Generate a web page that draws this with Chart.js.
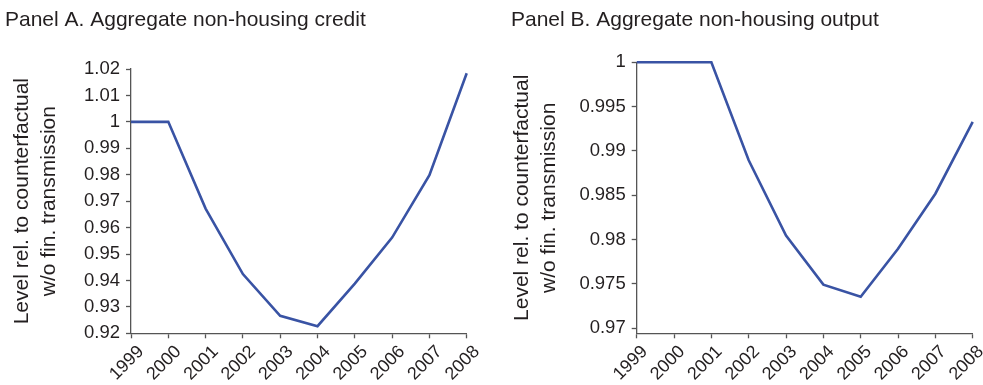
<!DOCTYPE html>
<html>
<head>
<meta charset="utf-8">
<script src="https://cdn.jsdelivr.net/npm/chart.js@4.4.1/dist/chart.umd.min.js"></script>
<style>
  html, body { margin: 0; padding: 0; background: #fff; overflow: hidden; }
  #wrap { position: relative; width: 983px; height: 385px; }
  canvas { position: absolute; top: 0; }
  #panelA { left: 0; }
  #panelB { left: 490px; }
</style>
</head>
<body>
<div id="wrap">
  <canvas id="panelA" width="490" height="385"></canvas>
  <canvas id="panelB" width="493" height="385"></canvas>
</div>
<script>
// Years on the horizontal axis (shared by both panels)
const years = ['1999', '2000', '2001', '2002', '2003', '2004', '2005', '2006', '2007', '2008'];

// Panel A: aggregate non-housing credit, level relative to counterfactual
const creditLevel = [1.0, 1.0, 0.9672, 0.9424, 0.9266, 0.9227, 0.9388, 0.9562, 0.9798, 1.0184];
const creditTicks = [0.92, 0.93, 0.94, 0.95, 0.96, 0.97, 0.98, 0.99, 1.0, 1.01, 1.02];
const creditTickLabels = ['0.92', '0.93', '0.94', '0.95', '0.96', '0.97', '0.98', '0.99', '1', '1.01', '1.02'];

// Panel B: aggregate non-housing output, level relative to counterfactual
const outputLevel = [1.0, 1.0, 1.0, 0.98895, 0.98047, 0.97493, 0.97357, 0.97897, 0.98518, 0.99329];
const outputTicks = [0.97, 0.975, 0.98, 0.985, 0.99, 0.995, 1.0];
const outputTickLabels = ['0.97', '0.975', '0.98', '0.985', '0.99', '0.995', '1'];

const yAxisTitle = ['Level rel. to counterfactual', 'w/o fin. transmission'];

const FONT = "'Liberation Sans', Arial, Helvetica, sans-serif";
const TEXT = '#231f20';
const AXIS = '#555555';
const LINE = '#3953a4';

function buildPanel(canvasId, p) {
  return new Chart(document.getElementById(canvasId), {
    type: 'line',
    data: {
      labels: years,
      datasets: [{
        data: p.values,
        borderColor: LINE,
        borderWidth: 2.6,
        pointRadius: 0,
        pointHoverRadius: 0,
        tension: 0,
        fill: false,
        clip: false
      }]
    },
    options: {
      responsive: false,
      animation: false,
      events: [],
      layout: { padding: { top: 0, left: p.padLeft, right: p.padRight, bottom: 0 } },
      plugins: {
        legend: { display: false },
        tooltip: { enabled: false },
        title: {
          display: true,
          text: p.title,
          align: 'start',
          color: TEXT,
          font: { family: FONT, size: 21, weight: 'normal', lineHeight: 1.2 },
          padding: { top: 7.3, bottom: p.titleGap }
        }
      },
      scales: {
        x: {
          type: 'category',
          offset: false,
          grid: { drawOnChartArea: false, drawTicks: true, tickLength: 5, color: AXIS, tickWidth: 1.3 },
          border: { display: true, color: AXIS, width: 1.3 },
          ticks: {
            color: TEXT,
            font: { family: FONT, size: 18 },
            maxRotation: 45,
            minRotation: 45,
            autoSkip: false,
            padding: 3,
            labelOffset: p.xLabelShift
          },
          afterFit(scale) {
            scale.height = 51.7;
            scale.paddingLeft = 0;
            scale.paddingRight = 0;
          }
        },
        y: {
          type: 'linear',
          min: p.min,
          max: p.max,
          grid: { drawOnChartArea: false, drawTicks: true, tickLength: 5, color: AXIS, tickWidth: 1.3 },
          border: { display: true, color: AXIS, width: 1.3 },
          ticks: {
            color: TEXT,
            font: { family: FONT, size: 18.5 },
            padding: 6,
            callback: (value, index) => p.tickLabels[index]
          },
          afterBuildTicks(scale) {
            scale.ticks = p.ticks.map(v => ({ value: v }));
          },
          afterFit(scale) {
            scale.width = p.yWidth;
            scale.paddingTop = 0;
            scale.paddingBottom = 0;
          },
          title: {
            display: true,
            text: yAxisTitle,
            color: TEXT,
            font: { family: FONT, size: 21, lineHeight: 1.26 },
            padding: { top: p.yTitlePad, bottom: 0 }
          }
        }
      }
    }
  });
}

buildPanel('panelA', {
  title: 'Panel A. Aggregate non-housing credit',
  values: creditLevel,
  ticks: creditTicks,
  tickLabels: creditTickLabels,
  min: 0.92,
  max: 1.02,
  padLeft: 5,
  padRight: 23.3,
  yWidth: 126,
  titleGap: 36.5,
  yTitlePad: 4.35,
  xLabelShift: 10
});

buildPanel('panelB', {
  title: 'Panel B. Aggregate non-housing output',
  values: outputLevel,
  ticks: outputTicks,
  tickLabels: outputTickLabels,
  min: 0.96944,
  max: 1.0,
  padLeft: 21,
  padRight: 10.3,
  yWidth: 125.7,
  titleGap: 29.8,
  yTitlePad: -1.65,
  xLabelShift: 8
});
</script>
</body>
</html>
